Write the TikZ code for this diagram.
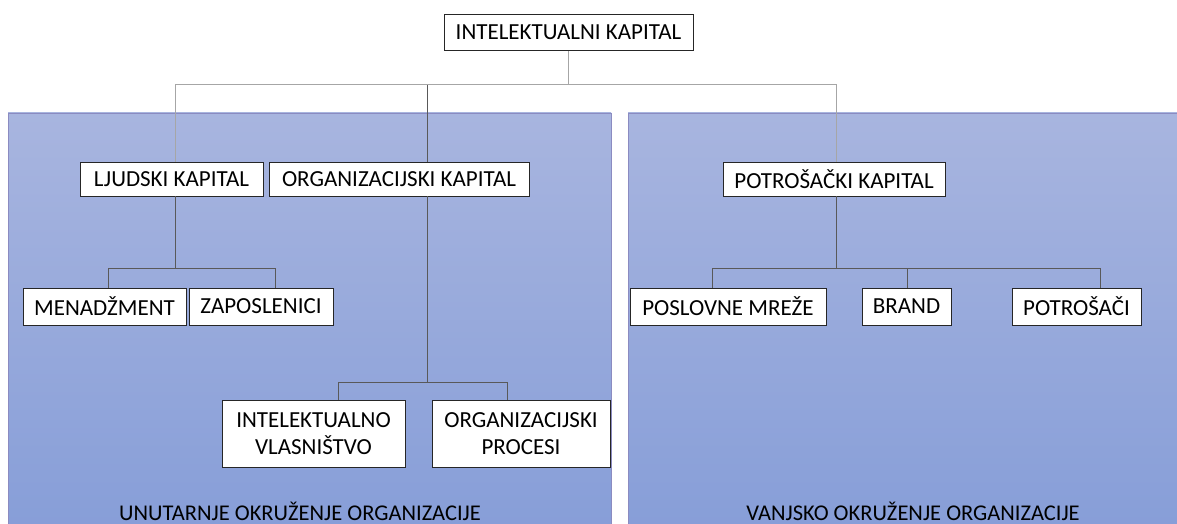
\documentclass[tikz,border=0pt]{standalone}
\usepackage{fontspec}
\setmainfont{Carlito}
\begin{document}
\begin{tikzpicture}[x=1pt,y=-1pt,
  box/.style={draw=black!85,line width=0.9pt,fill=white,inner sep=0pt,align=center,
    font=\fontsize{23}{27}\selectfont},
  panel/.style={draw=blue!30!gray!70,line width=0.6pt,top color=panelTop,bottom color=panelBot},
  conTop/.style={draw=gray!70,line width=1pt},
  con/.style={draw=black!65,line width=0.8pt},
  lbl/.style={font=\fontsize{22.5}{27}\selectfont,inner sep=0pt}]
\definecolor{panelTop}{RGB}{168,181,223}
\definecolor{panelBot}{RGB}{135,158,216}
\useasboundingbox (0,0) rectangle (1177,524);
% panels
\path[panel] (8,113) rectangle (611,526);
\path[panel] (628,113) rectangle (1179,526);
\node[lbl] (lin) at (300,511) {UNUTARNJE OKRUŽENJE ORGANIZACIJE};
\node[lbl] (lout) at (913,511) {VANJSKO OKRUŽENJE ORGANIZACIJE};
% nodes
\node[box,minimum width=249pt,minimum height=36pt] (top) at (568.5,32.5) {INTELEKTUALNI KAPITAL};
\node[box,minimum width=183pt,minimum height=34pt] (ljud) at (171.5,179) {LJUDSKI KAPITAL};
\node[box,minimum width=260pt,minimum height=34pt] (org) at (399,179) {ORGANIZACIJSKI KAPITAL};
\node[box,minimum width=222pt,minimum height=34pt] (potr) at (834,179) {POTROŠAČKI KAPITAL};
\node[box,minimum width=163pt,minimum height=37pt] (men) at (104.5,306.5) {MENADŽMENT};
\node[box,minimum width=144pt,minimum height=37pt] (zap) at (261,306.5) {ZAPOSLENICI};
\node[box,minimum width=183pt,minimum height=67pt] (iv) at (313.5,433.5) {INTELEKTUALNO\\VLASNIŠTVO};
\node[box,minimum width=178pt,minimum height=67pt] (op) at (521,433.5) {ORGANIZACIJSKI\\PROCESI};
\node[box,minimum width=196pt,minimum height=37pt] (pm) at (728,306.5) {POSLOVNE MREŽE};
\node[box,minimum width=89pt,minimum height=37pt] (br) at (906.5,306.5) {BRAND};
\node[box,minimum width=129pt,minimum height=37pt] (pc) at (1076.5,306.5) {POTROŠAČI};
% junction coordinates
\coordinate (h0) at (0,85);
\coordinate (h1) at (0,268);
\coordinate (h2) at (0,382);
\coordinate (xl) at (175,0);
\coordinate (xo) at (427,0);
\coordinate (xp) at (836,0);
\coordinate (xm) at (108,0);
\coordinate (xz) at (275,0);
\coordinate (xi) at (338,0);
\coordinate (xr) at (507,0);
\coordinate (xa) at (712,0);
\coordinate (xb) at (907,0);
\coordinate (xc) at (1100,0);
% top level connectors
\draw[conTop] (top.south) -- (top.south |- h0);
\draw[conTop] (ljud.north -| xl) -- (xl |- h0) -- (xp |- h0) -- (potr.north -| xp);
\draw[con] (org.north -| xo) -- (xo |- h0);
% lower connectors
\draw[con] (ljud.south -| xl) -- (xl |- h1);
\draw[con] (men.north -| xm) -- (xm |- h1) -- (xz |- h1) -- (zap.north -| xz);
\draw[con] (org.south -| xo) -- (xo |- h2);
\draw[con] (iv.north -| xi) -- (xi |- h2) -- (xr |- h2) -- (op.north -| xr);
\draw[con] (potr.south -| xp) -- (xp |- h1);
\draw[con] (pm.north -| xa) -- (xa |- h1) -- (xc |- h1) -- (pc.north -| xc);
\draw[con] (br.north -| xb) -- (xb |- h1);
\end{tikzpicture}
\end{document}
